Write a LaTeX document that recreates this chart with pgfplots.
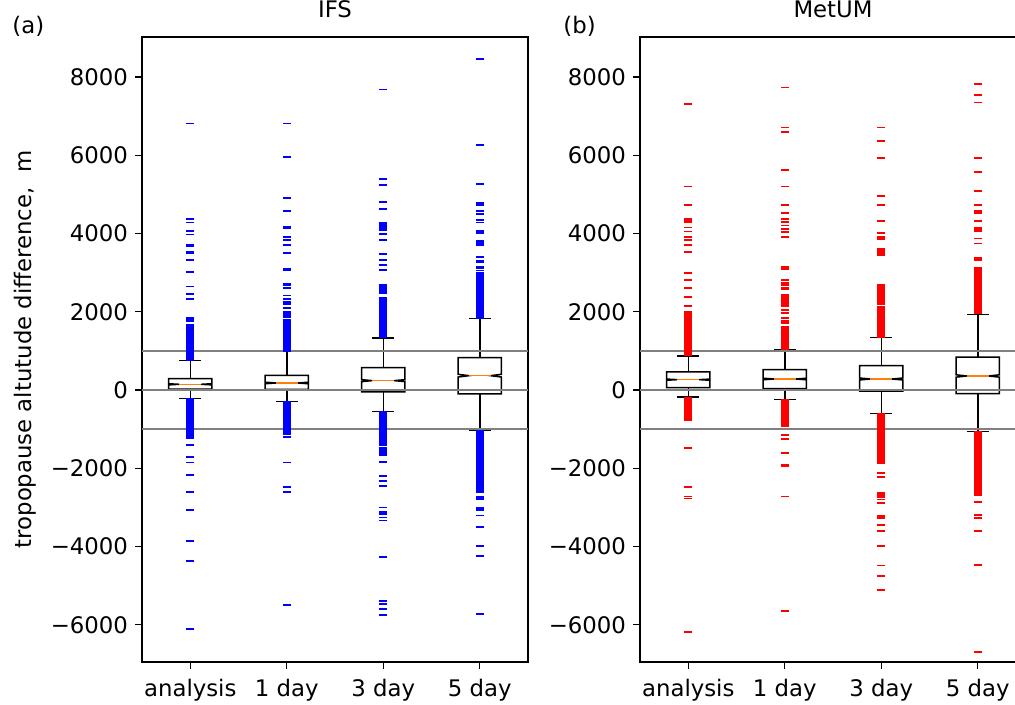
\documentclass[border=0pt]{standalone}
\usepackage{fontspec}
\setmainfont{DejaVu Sans}
\usepackage{pgfplots}
\pgfplotsset{compat=1.18}

\newcommand\fs{\fontsize{11.4}{13.7}\selectfont}
\definecolor{medorange}{HTML}{FF7F0E}

\pgfplotsset{
  panel/.style={
    scale only axis, width=193pt, height=312.5pt,
    xmin=0.5, xmax=4.5, ymin=-6952, ymax=9022,
    xtick={1,2,3,4}, xticklabels={analysis,1 day,3 day,5 day},
    ytick={-6000,-4000,-2000,0,2000,4000,6000,8000},
    yticklabels={−6000,−4000,−2000,0,2000,4000,6000,8000},
    xtick pos=bottom, ytick pos=left,
    tick align=outside, major tick length=3.5pt,
    axis line style={line width=0.55pt},
    tick style={black, line width=0.55pt},
    ticklabel style={font=\fs},
    xticklabel style={anchor=base, yshift=-14pt},
    title style={font=\fs, anchor=base, at={(0.5,1)}, yshift=3.5pt},
  },
  whisk/.style={black, line width=0.75pt, mark=none},
  boxl/.style={black, line width=0.75pt, mark=none},
  med/.style={medorange, line width=0.75pt, mark=none},
  hl/.style={gray, line width=1pt, mark=none},
  fl/.style={only marks, mark=-, mark size=1.9pt, color=#1, mark options={line width=0.85pt}},
}

% notched box: x, lower whisker, q1, median, q3, upper whisker, notch half height
\newcommand{\nbox}[7]{%
  \pgfmathsetmacro\xl{#1-0.225}\pgfmathsetmacro\xr{#1+0.225}%
  \pgfmathsetmacro\xml{#1-0.1125}\pgfmathsetmacro\xmr{#1+0.1125}%
  \pgfmathsetmacro\mlo{#4-#7}\pgfmathsetmacro\mhi{#4+#7}%
  \edef\tmp{%
    \noexpand\addplot[whisk] coordinates {(#1,#2) (#1,#3)};
    \noexpand\addplot[whisk] coordinates {(#1,#5) (#1,#6)};
    \noexpand\addplot[whisk] coordinates {(\xml,#2) (\xmr,#2)};
    \noexpand\addplot[whisk] coordinates {(\xml,#6) (\xmr,#6)};
    \noexpand\addplot[boxl] coordinates {(\xl,#3) (\xr,#3) (\xr,\mlo) (\xmr,#4) (\xr,\mhi) (\xr,#5) (\xl,#5) (\xl,\mhi) (\xml,#4) (\xl,\mlo)} --cycle;
    \noexpand\addplot[med] coordinates {(\xml,#4) (\xmr,#4)};
  }\tmp}
% fliers: x, colour, values
\newcommand{\fl}[3]{\addplot[fl=#2] table[x expr=#1, y=v, row sep=\\] {v\\#3};}
\newcommand{\hlines}{%
  \addplot[hl] coordinates {(0.5,1000) (4.5,1000)};
  \addplot[hl] coordinates {(0.5,0) (4.5,0)};
  \addplot[hl] coordinates {(0.5,-1000) (4.5,-1000)};}

\begin{document}
\begin{tikzpicture}
\useasboundingbox (0,0) rectangle (507.5pt,352.5pt);

\begin{axis}[panel, at={(71pt,21.5pt)}, anchor=south west, title={IFS}]
% analysis
\fl{1}{blue}{6807\\4371\\4277\\4064\\3970\\3706\\3680\\3535\\3493\\3323\\3016\\2641\\2445\\2326\\1832\\1790\\1747\\
1661\\1633\\1604\\1578\\1549\\1520\\1493\\1465\\1436\\1409\\1380\\1352\\1325\\1296\\1268\\1240\\1212\\1185\\1156\\1128\\1100\\1072\\1044\\1016\\988\\960\\932\\905\\876\\848\\820\\792\\765\\
-235\\-262\\-290\\-318\\-346\\-374\\-402\\-430\\-458\\-486\\-514\\-542\\-570\\-598\\-626\\-654\\-682\\-710\\-738\\-766\\-794\\-822\\-850\\-878\\-906\\-934\\-962\\-990\\-1018\\-1046\\-1074\\-1102\\-1130\\-1160\\-1190\\-1227\\
-1406\\-1704\\-1857\\-2164\\-2615\\-3067\\-3859\\-4363\\-6109\\}
% 1 day
\fl{2}{blue}{6807\\5947\\4915\\4583\\4174\\4132\\3911\\3826\\3714\\3493\\3093\\3059\\2709\\2675\\2599\\2411\\2318\\2257\\2190\\2104\\2000\\1960\\1935\\1890\\1850\\1800\\1770\\1730\\
1704\\1676\\1648\\1620\\1592\\1564\\1536\\1508\\1480\\1452\\1424\\1396\\1368\\1340\\1312\\1284\\1256\\1228\\1200\\1172\\1144\\1116\\1088\\1060\\1034\\1005\\
-310\\-338\\-366\\-394\\-422\\-450\\-478\\-506\\-534\\-562\\-590\\-618\\-646\\-674\\-702\\-730\\-758\\-786\\-814\\-842\\-870\\-898\\-926\\-954\\-982\\-1010\\-1040\\-1072\\-1105\\-1140\\-1193\\
-1857\\-2471\\-2607\\-5495\\}
% 3 day
\fl{3}{blue}{7676\\5393\\5231\\4805\\4626\\4260\\4218\\4175\\4132\\4089\\3987\\3834\\3484\\3314\\3203\\3067\\2684\\2640\\2600\\2550\\2500\\2471\\
2343\\2315\\2288\\2260\\2232\\2204\\2176\\2148\\2120\\2092\\2065\\2038\\2010\\1982\\1954\\1926\\1898\\1870\\1842\\1814\\1786\\1758\\1730\\1702\\1674\\1646\\1618\\1590\\1562\\1534\\1506\\1478\\1450\\1422\\1394\\1366\\1345\\
-565\\-593\\-621\\-649\\-677\\-705\\-733\\-761\\-789\\-817\\-845\\-873\\-901\\-929\\-957\\-985\\-1013\\-1041\\-1069\\-1097\\-1125\\-1153\\-1181\\-1210\\-1245\\-1280\\
-1321\\-1380\\-1420\\-1491\\-1540\\-1576\\-1610\\-1661\\-1832\\-2190\\-2318\\-2446\\-3000\\-3126\\-3169\\-3262\\-3339\\-4277\\-5393\\-5478\\-5606\\-5742\\}
% 5 day
\fl{4}{blue}{8468\\6254\\5265\\4787\\4736\\4575\\4490\\4345\\4277\\4064\\4021\\3808\\3765\\3706\\3391\\3305\\3262\\3152\\3110\\3050\\2990\\2950\\
2922\\2894\\2866\\2838\\2810\\2782\\2754\\2726\\2698\\2670\\2642\\2614\\2586\\2558\\2530\\2502\\2474\\2446\\2418\\2390\\2362\\2334\\2306\\2278\\2250\\2222\\2194\\2166\\2138\\2110\\2082\\2054\\2026\\1998\\1970\\1942\\1914\\1886\\1858\\1838\\
-1035\\-1063\\-1091\\-1119\\-1147\\-1175\\-1203\\-1231\\-1259\\-1287\\-1315\\-1343\\-1371\\-1399\\-1427\\-1455\\-1483\\-1511\\-1539\\-1567\\-1595\\-1623\\-1651\\-1679\\-1707\\-1735\\-1763\\-1791\\-1819\\-1847\\-1875\\-1903\\-1931\\-1959\\-1987\\-2015\\-2043\\-2071\\-2099\\-2127\\-2155\\-2183\\-2211\\-2239\\-2267\\-2295\\-2323\\-2351\\-2379\\-2407\\-2435\\-2463\\-2491\\-2519\\-2547\\-2575\\-2600\\
-2743\\-2794\\-3024\\-3067\\-3211\\-3501\\-3987\\-4235\\-5717\\}
\nbox{1}{-222}{20}{145}{290}{750}{15}
\nbox{2}{-298}{18}{179}{375}{980}{20}
\nbox{3}{-554}{-51}{239}{571}{1329}{25}
\nbox{4}{-1022}{-102}{366}{826}{1823}{35}
\hlines
\end{axis}

\begin{axis}[panel, at={(320pt,21.5pt)}, anchor=south west, title={MetUM}]
% analysis
\fl{1}{red}{7302\\5197\\4728\\4371\\4336\\4302\\4149\\4047\\3903\\3834\\3706\\3519\\2998\\2812\\2599\\2385\\2147\\
2002\\1965\\1930\\1895\\1860\\1832\\1804\\1776\\1748\\1720\\1692\\1664\\1636\\1608\\1580\\1552\\1524\\1496\\1468\\1440\\1412\\1384\\1356\\1328\\1300\\1272\\1244\\1216\\1188\\1160\\1132\\1104\\1076\\1048\\1020\\992\\964\\936\\908\\885\\
-190\\-218\\-246\\-274\\-302\\-330\\-358\\-386\\-414\\-442\\-470\\-498\\-526\\-554\\-582\\-610\\-638\\-666\\-694\\-722\\-750\\-767\\
-1482\\-2479\\-2726\\-2777\\-6177\\}
% 1 day
\fl{2}{red}{7733\\6705\\6594\\5631\\5197\\4728\\4532\\4371\\4286\\4200\\4115\\4030\\3911\\3136\\3085\\2812\\2726\\2684\\2599\\2573\\2428\\2403\\2385\\2343\\2300\\2283\\2215\\2190\\2147\\2045\\1960\\1832\\1772\\1704\\1619\\1576\\
1534\\1506\\1478\\1450\\1422\\1394\\1366\\1338\\1310\\1282\\1254\\1226\\1198\\1170\\1142\\1114\\1086\\1058\\1040\\
-255\\-283\\-311\\-339\\-367\\-395\\-423\\-451\\-479\\-507\\-535\\-563\\-591\\-619\\-647\\-675\\-703\\-731\\-759\\-787\\-815\\-843\\-871\\-899\\-937\\
-1150\\-1261\\-1610\\-1917\\-1951\\-2726\\-5648\\}
% 3 day
\fl{3}{red}{6705\\6364\\5922\\4958\\4728\\4319\\4021\\3918\\3851\\3604\\3561\\3493\\3442\\
2684\\2650\\2610\\2580\\2540\\2500\\2470\\2430\\2390\\2350\\2310\\2270\\2230\\2190\\
2130\\2102\\2074\\2046\\2018\\1990\\1962\\1934\\1906\\1878\\1850\\1822\\1794\\1766\\1738\\1710\\1682\\1654\\1626\\1598\\1570\\1542\\1514\\1486\\1458\\1430\\1402\\1374\\1360\\
-610\\-638\\-666\\-694\\-722\\-750\\-778\\-806\\-834\\-862\\-890\\-918\\-946\\-974\\-1002\\-1030\\-1058\\-1086\\-1114\\-1142\\-1170\\-1198\\-1226\\-1254\\-1282\\-1310\\-1338\\-1366\\-1394\\-1422\\-1450\\-1478\\-1506\\-1534\\-1562\\-1590\\-1618\\-1646\\-1674\\-1702\\-1730\\-1758\\-1786\\-1814\\-1842\\-1874\\
-2130\\-2215\\-2624\\-2680\\-2740\\-2800\\-2897\\-3220\\-3280\\-3450\\-3604\\-3987\\-4482\\-4754\\-5104\\}
% 5 day
\fl{4}{red}{7813\\7532\\7344\\5922\\5580\\5094\\4728\\4575\\4532\\4319\\4132\\4090\\4047\\3868\\3740\\3365\\3323\\
3110\\3082\\3054\\3026\\2998\\2970\\2942\\2914\\2886\\2858\\2830\\2802\\2774\\2746\\2718\\2690\\2662\\2634\\2606\\2578\\2550\\2522\\2494\\2466\\2438\\2410\\2382\\2354\\2326\\2298\\2270\\2242\\2214\\2186\\2158\\2130\\2102\\2074\\2046\\2018\\1990\\1955\\
-1066\\-1094\\-1122\\-1150\\-1178\\-1206\\-1234\\-1262\\-1290\\-1318\\-1346\\-1374\\-1402\\-1430\\-1458\\-1486\\-1514\\-1542\\-1570\\-1598\\-1626\\-1654\\-1682\\-1710\\-1738\\-1766\\-1794\\-1822\\-1850\\-1878\\-1906\\-1934\\-1962\\-1990\\-2018\\-2046\\-2074\\-2102\\-2130\\-2158\\-2186\\-2214\\-2242\\-2270\\-2298\\-2326\\-2354\\-2382\\-2410\\-2438\\-2466\\-2494\\-2522\\-2550\\-2578\\-2606\\-2634\\-2684\\
-2863\\-3195\\-3280\\-3604\\-4473\\-6689\\}
\nbox{1}{-179}{60}{264}{460}{869}{15}
\nbox{2}{-247}{34}{281}{520}{1031}{20}
\nbox{3}{-597}{-26}{281}{622}{1346}{25}
\nbox{4}{-1056}{-94}{358}{843}{1934}{30}
\hlines
\end{axis}

\node[anchor=base west, inner sep=0pt, font=\fs] at (6pt,335.5pt) {(a)};
\node[anchor=base west, inner sep=0pt, font=\fs] at (281.5pt,335.5pt) {(b)};
\node[rotate=90, anchor=base, inner sep=0pt, font=\fs] at (16pt,177.75pt) {tropopause altutude difference,\ \ m};
\end{tikzpicture}
\end{document}
